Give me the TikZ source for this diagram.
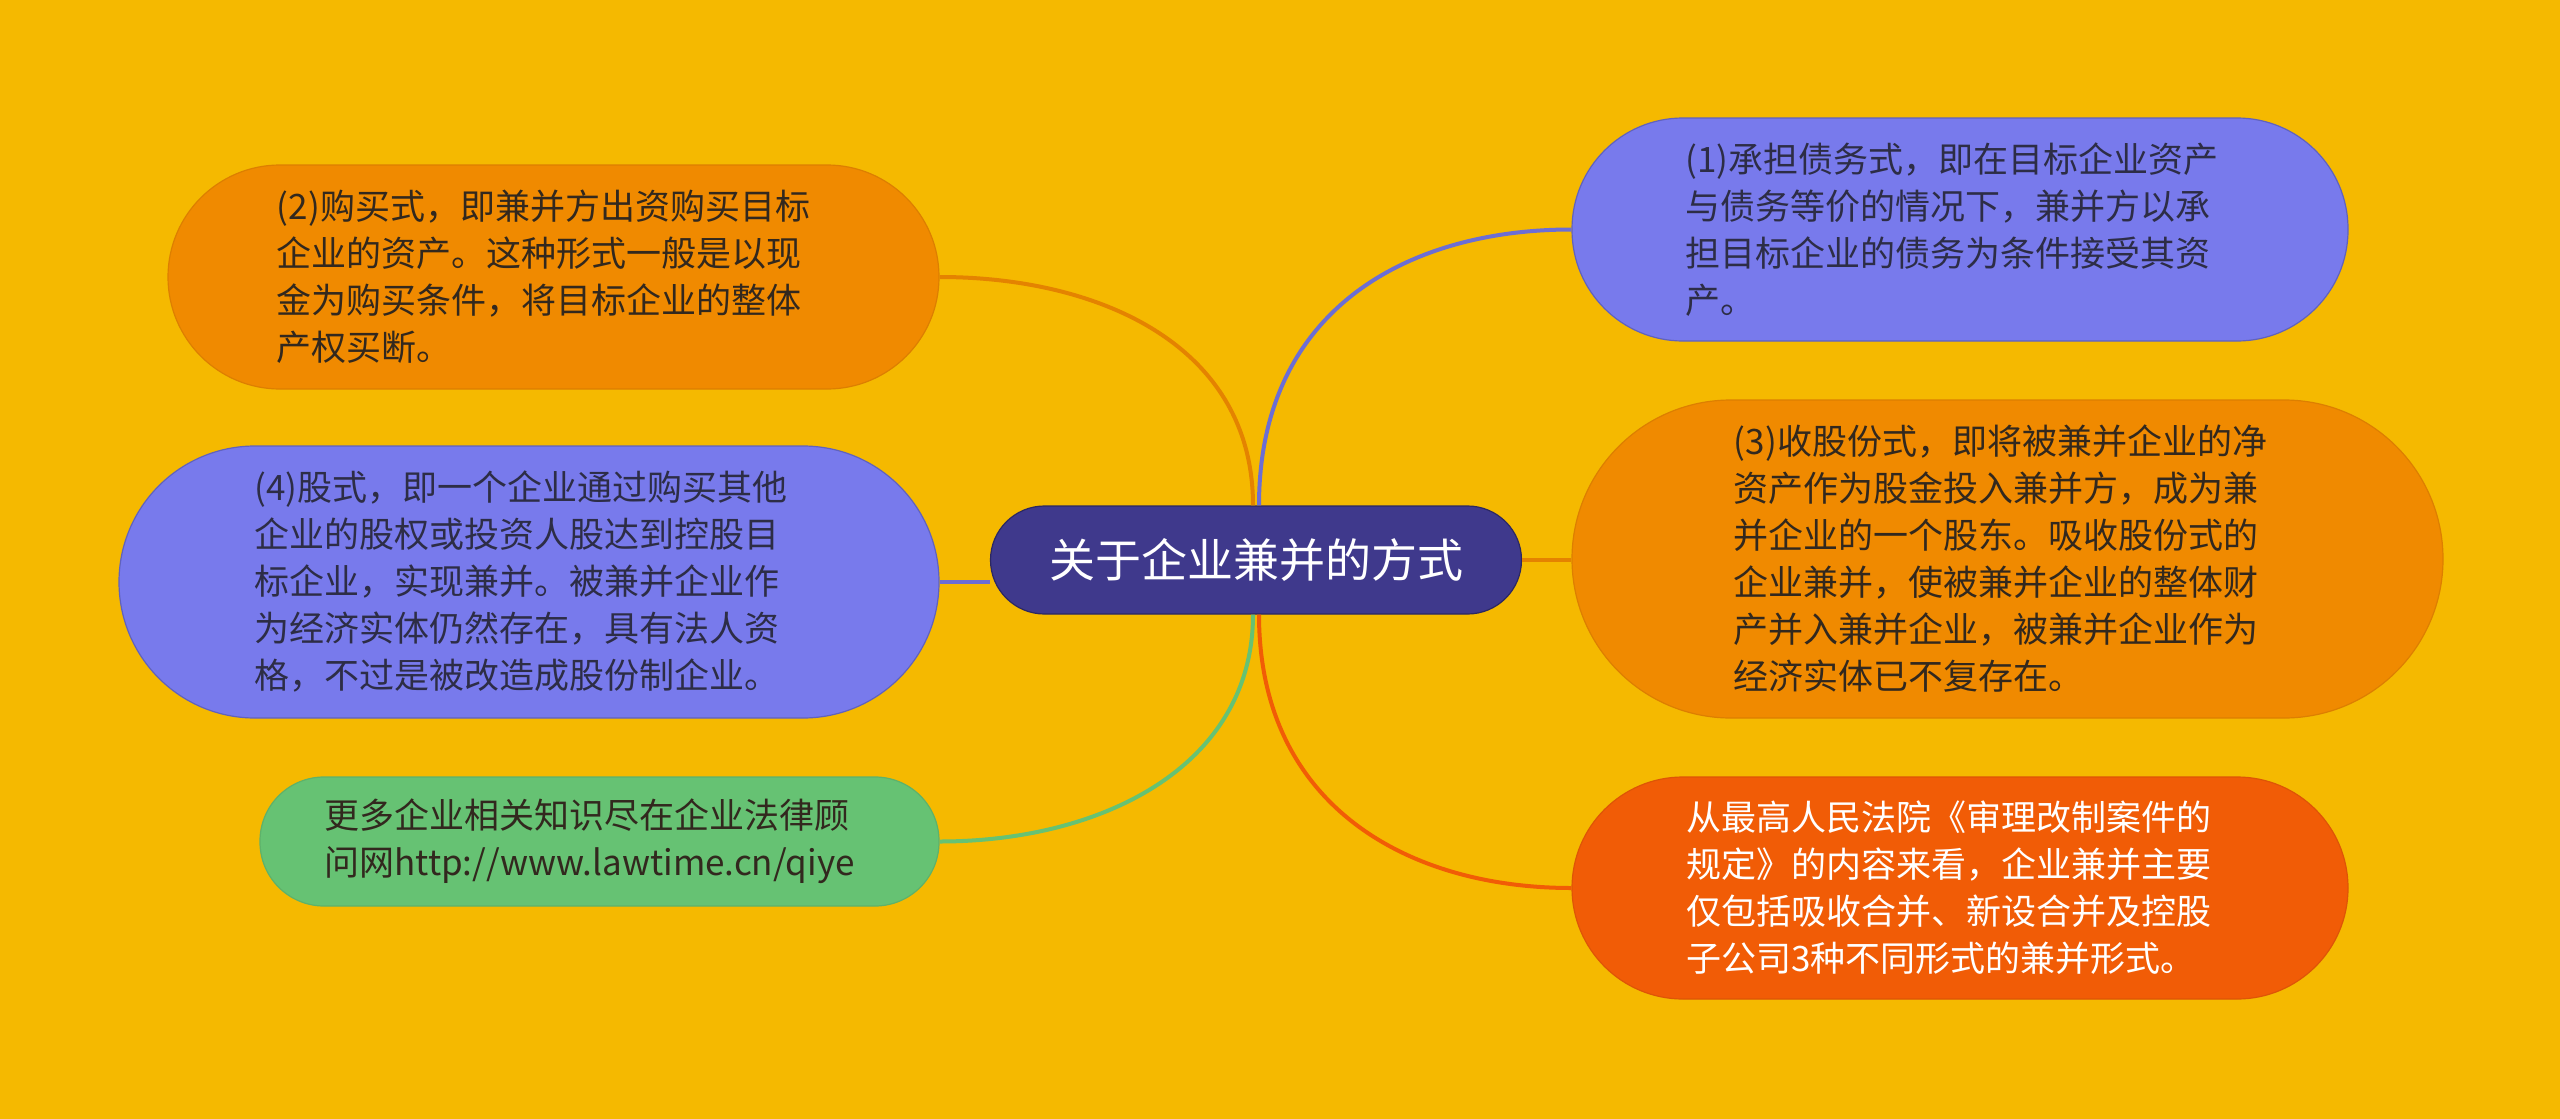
\documentclass[tikz,border=0pt]{standalone}
\usepackage{fontspec}
\setmainfont{Noto Sans CJK SC}
\definecolor{bgc}{RGB}{245,185,0}
\definecolor{rootc}{RGB}{63,57,140}
\definecolor{bluec}{RGB}{120,122,236}
\definecolor{orangec}{RGB}{240,138,0}
\definecolor{greenc}{RGB}{102,194,115}
\definecolor{redc}{RGB}{241,92,6}
\definecolor{darktxt}{RGB}{50,40,30}
\definecolor{bluetxt}{RGB}{45,45,70}
\tikzset{
  shapebox/.style={rectangle, inner sep=0pt, line width=1.2pt},
  bluebox/.style={shapebox, fill=bluec, draw=bluec!80!black},
  orangebox/.style={shapebox, fill=orangec, draw=orangec!92!black},
  greenbox/.style={shapebox, fill=greenc, draw=greenc!92!black},
  redbox/.style={shapebox, fill=redc, draw=redc!92!black},
  txt/.style={inner sep=0pt, align=left, font=\fontsize{35pt}{47pt}\selectfont},
  link/.style={line width=4pt},
}
\begin{document}
\begin{tikzpicture}[x=1pt,y=-1pt]
\fill[bgc] (0,0) rectangle (2560,1119);
\useasboundingbox (0,0) rectangle (2560,1119);

\node[rectangle, inner sep=0pt, fill=rootc, draw=rootc!70!black, line width=1.2pt,
      minimum width=531pt, minimum height=108pt, rounded corners=54pt,
      text=white, font=\fontsize{46pt}{56pt}\selectfont] (root) at (1256,560) {关于企业兼并的方式};

\node[orangebox, minimum width=771pt, minimum height=224pt, rounded corners=112pt] (n2) at (553.5,277) {};
\node[txt, text=darktxt] (n2t) at ([xshift=-10pt]n2.center)
 {(2)购买式，即兼并方出资购买目标\\企业的资产。这种形式一般是以现\\金为购买条件，将目标企业的整体\\产权买断。};

\node[bluebox, minimum width=820pt, minimum height=272pt, rounded corners=136pt] (n4) at (529,582) {};
\node[txt, text=bluetxt] (n4t) at ([xshift=-8pt]n4.center)
 {(4)股式，即一个企业通过购买其他\\企业的股权或投资人股达到控股目\\标企业，实现兼并。被兼并企业作\\为经济实体仍然存在，具有法人资\\格，不过是被改造成股份制企业。};

\node[greenbox, minimum width=679pt, minimum height=129pt, rounded corners=64pt] (ng) at (599.5,841.5) {};
\node[txt, text=darktxt] (ngt) at ([xshift=-10pt]ng.center)
 {更多企业相关知识尽在企业法律顾\\问网http://www.lawtime.cn/qiye};

\node[bluebox, minimum width=776pt, minimum height=223pt, rounded corners=111pt] (n1) at (1960,229.5) {};
\node[txt, text=bluetxt] (n1t) at ([xshift=-8pt]n1.center)
 {(1)承担债务式，即在目标企业资产\\与债务等价的情况下，兼并方以承\\担目标企业的债务为条件接受其资\\产。};

\node[orangebox, minimum width=871pt, minimum height=318pt, rounded corners=159pt] (n3) at (2007.5,559) {};
\node[txt, text=darktxt] (n3t) at ([xshift=-7pt]n3.center)
 {(3)收股份式，即将被兼并企业的净\\资产作为股金投入兼并方，成为兼\\并企业的一个股东。吸收股份式的\\企业兼并，使被兼并企业的整体财\\产并入兼并企业，被兼并企业作为\\经济实体已不复存在。};

\node[redbox, minimum width=776pt, minimum height=222pt, rounded corners=111pt] (n5) at (1960,888) {};
\node[txt, text=white] (n5t) at ([xshift=-11pt]n5.center)
 {从最高人民法院《审理改制案件的\\规定》的内容来看，企业兼并主要\\仅包括吸收合并、新设合并及控股\\子公司3种不同形式的兼并形式。};

\draw[link, draw=orangec!95!black] ([xshift=-3pt]root.north) .. controls +(0,-160) and +(160,0) .. (n2.east);
\draw[link, draw=bluec!90!black] ([xshift=3pt]root.north) .. controls +(0,-195) and +(-165,0) .. (n1.west);
\draw[link, draw=greenc] ([xshift=-3pt]root.south) .. controls +(0,150) and +(165,0) .. (ng.east);
\draw[link, draw=redc] ([xshift=3pt]root.south) .. controls +(0,190) and +(-165,0) .. (n5.west);
\draw[link, draw=bluec!90!black] (n4.east) -- (n4.east -| root.west);
\draw[link, draw=orangec!95!black] (root.east) -- (root.east -| n3.west);
\end{tikzpicture}
\end{document}
